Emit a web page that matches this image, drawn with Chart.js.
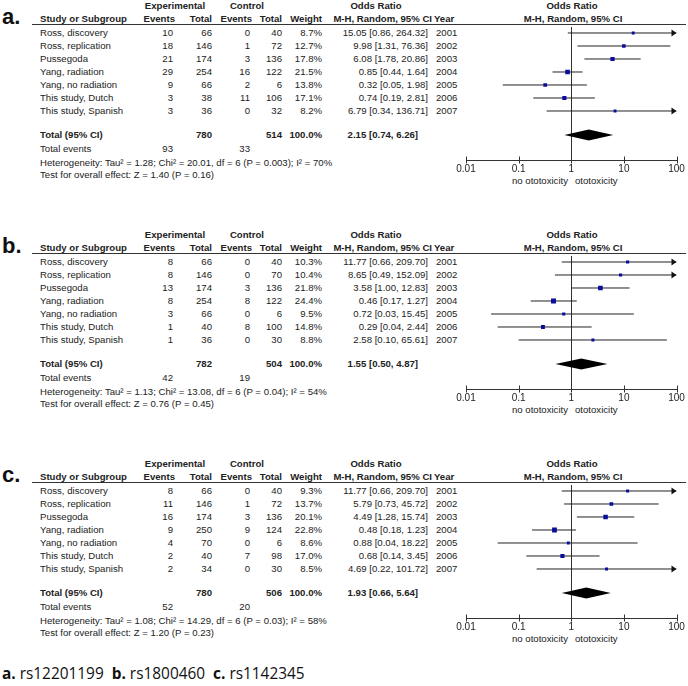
<!DOCTYPE html>
<html>
<head>
<meta charset="utf-8">
<script src="https://cdn.jsdelivr.net/npm/chart.js@4.4.1/dist/chart.umd.min.js"></script>
<style>
  body { margin: 0; background: #fff; }
  #page { position: relative; width: 688px; height: 686px; overflow: hidden;
          font-family: "Liberation Sans", Arial, sans-serif; font-size: 9.6px; color: #222; }
  .panel { position: absolute; left: 0; width: 688px; height: 229px; }
  .t { position: absolute; white-space: nowrap; height: 12px; line-height: 12px; }
  .b { font-weight: bold; }
  .rule { position: absolute; left: 32px; width: 654px; top: 24px; height: 1px; background: #333; }
  .tag { position: absolute; left: 2px; top: 6px; font: bold 22px "Liberation Sans", Arial, sans-serif;
         line-height: 22px; color: #111; }
  .plot { position: absolute; left: 440px; top: 0; width: 248px; height: 190px; }
  #caption { position: absolute; left: 2px; top: 663px; font: 15.4px "Open Sans", sans-serif;
             line-height: 22px; color: #111; white-space: nowrap; }
</style>
</head>
<body>
<div id="page">
  <div id="caption"><b>a.</b> rs12201199 &nbsp;<b>b.</b> rs1800460 &nbsp;<b>c.</b> rs1142345</div>
</div>
<script>
// shared
const studies = ["Ross, discovery", "Ross, replication", "Pussegoda", "Yang, radiation",
                 "Yang, no radiation", "This study, Dutch", "This study, Spanish"];
const years = [2001, 2002, 2003, 2004, 2005, 2006, 2007];
const tickValues = [0.01, 0.1, 1, 10, 100];

// a. rs12201199
const aExpEvents = [10, 18, 21, 29, 9, 3, 3];
const aExpTotal = [66, 146, 174, 254, 66, 38, 36];
const aCtlEvents = [0, 1, 3, 16, 2, 11, 0];
const aCtlTotal = [40, 72, 136, 122, 6, 106, 32];
const aWeight = [8.7, 12.7, 17.8, 21.5, 13.8, 17.1, 8.2];
const aOR = [15.05, 9.98, 6.08, 0.85, 0.32, 0.74, 6.79];
const aLow = [0.86, 1.31, 1.78, 0.44, 0.05, 0.19, 0.34];
const aHigh = [264.32, 76.36, 20.86, 1.64, 1.98, 2.81, 136.71];
const aTotals = [780, 514];
const aTotalEvents = [93, 33];
const aPooled = [2.15, 0.74, 6.26];
const aHet = "Tau² = 1.28; Chi² = 20.01, df = 6 (P = 0.003); I² = 70%";
const aZ = "Z = 1.40 (P = 0.16)";

// b. rs1800460
const bExpEvents = [8, 8, 13, 8, 3, 1, 1];
const bExpTotal = [66, 146, 174, 254, 66, 40, 36];
const bCtlEvents = [0, 0, 3, 8, 0, 8, 0];
const bCtlTotal = [40, 70, 136, 122, 6, 100, 30];
const bWeight = [10.3, 10.4, 21.8, 24.4, 9.5, 14.8, 8.8];
const bOR = [11.77, 8.65, 3.58, 0.46, 0.72, 0.29, 2.58];
const bLow = [0.66, 0.49, 1.00, 0.17, 0.03, 0.04, 0.10];
const bHigh = [209.70, 152.09, 12.83, 1.27, 15.45, 2.44, 65.61];
const bTotals = [782, 504];
const bTotalEvents = [42, 19];
const bPooled = [1.55, 0.50, 4.87];
const bHet = "Tau² = 1.13; Chi² = 13.08, df = 6 (P = 0.04); I² = 54%";
const bZ = "Z = 0.76 (P = 0.45)";

// c. rs1142345
const cExpEvents = [8, 11, 16, 9, 4, 2, 2];
const cExpTotal = [66, 146, 174, 250, 70, 40, 34];
const cCtlEvents = [0, 1, 3, 9, 0, 7, 0];
const cCtlTotal = [40, 72, 136, 124, 6, 98, 30];
const cWeight = [9.3, 13.7, 20.1, 22.8, 8.6, 17.0, 8.5];
const cOR = [11.77, 5.79, 4.49, 0.48, 0.88, 0.68, 4.69];
const cLow = [0.66, 0.73, 1.28, 0.18, 0.04, 0.14, 0.22];
const cHigh = [209.70, 45.72, 15.74, 1.23, 18.22, 3.45, 101.72];
const cTotals = [780, 506];
const cTotalEvents = [52, 20];
const cPooled = [1.93, 0.66, 5.64];
const cHet = "Tau² = 1.08; Chi² = 14.29, df = 6 (P = 0.03); I² = 58%";
const cZ = "Z = 1.20 (P = 0.23)";

const panels = [
  { tag: "a.", exp: aExpEvents, expN: aExpTotal, ctl: aCtlEvents, ctlN: aCtlTotal, w: aWeight,
    or: aOR, lo: aLow, hi: aHigh, totals: aTotals, events: aTotalEvents, pooled: aPooled, het: aHet, z: aZ },
  { tag: "b.", exp: bExpEvents, expN: bExpTotal, ctl: bCtlEvents, ctlN: bCtlTotal, w: bWeight,
    or: bOR, lo: bLow, hi: bHigh, totals: bTotals, events: bTotalEvents, pooled: bPooled, het: bHet, z: bZ },
  { tag: "c.", exp: cExpEvents, expN: cExpTotal, ctl: cCtlEvents, ctlN: cCtlTotal, w: cWeight,
    or: cOR, lo: cLow, hi: cHigh, totals: cTotals, events: cTotalEvents, pooled: cPooled, het: cHet, z: cZ }
];

const TOTAL_ROW = 7.85; // y position of pooled diamond, in row units
const fmtCI = (e, l, h) => e.toFixed(2) + " [" + l.toFixed(2) + ", " + h.toFixed(2) + "]";

function put(parent, text, x, y, align, bold) {
  const d = document.createElement("div");
  d.className = "t" + (bold ? " b" : "");
  d.textContent = text;
  d.style.top = (y - 6) + "px";
  if (align === "r") { d.style.left = (x - 300) + "px"; d.style.width = "300px"; d.style.textAlign = "right"; }
  else if (align === "c") { d.style.left = (x - 150) + "px"; d.style.width = "300px"; d.style.textAlign = "center"; }
  else d.style.left = x + "px";
  parent.appendChild(d);
}

// null line, axis with crossing ticks, arrows, pooled diamond
const forestExtras = {
  id: "forestExtras",
  beforeDatasetsDraw(chart) {
    const { ctx, chartArea: a, scales: { x } } = chart;
    ctx.save();
    ctx.strokeStyle = "#333";
    ctx.lineWidth = 1;
    const p1 = Math.round(x.getPixelForValue(1)) + 0.5;
    ctx.beginPath();
    ctx.moveTo(p1, a.top);
    ctx.lineTo(p1, a.bottom);
    const yb = Math.round(a.bottom) + 0.5;
    ctx.moveTo(Math.round(x.getPixelForValue(tickValues[0])), yb);
    ctx.lineTo(Math.round(x.getPixelForValue(tickValues[tickValues.length - 1])) + 1, yb);
    tickValues.forEach(v => {
      const t = Math.round(x.getPixelForValue(v)) + 0.5;
      ctx.moveTo(t, yb - 4);
      ctx.lineTo(t, yb + 3);
    });
    ctx.stroke();
    ctx.restore();
  },
  afterDatasetsDraw(chart, args, opts) {
    const { ctx, scales: { x, y } } = chart;
    ctx.save();
    ctx.fillStyle = "#111";
    opts.hi.forEach((h, i) => {
      if (h <= x.max) return;
      const tip = x.getPixelForValue(x.max);
      const yp = y.getPixelForValue(i);
      ctx.beginPath();
      ctx.moveTo(tip, yp);
      ctx.lineTo(tip - 5, yp - 3.5);
      ctx.lineTo(tip - 5, yp + 3.5);
      ctx.closePath();
      ctx.fill();
    });
    const [e, l, h] = opts.pooled;
    const yd = y.getPixelForValue(TOTAL_ROW);
    ctx.fillStyle = "#000";
    ctx.beginPath();
    ctx.moveTo(x.getPixelForValue(l), yd);
    ctx.lineTo(x.getPixelForValue(e), yd - 5.5);
    ctx.lineTo(x.getPixelForValue(h), yd);
    ctx.lineTo(x.getPixelForValue(e), yd + 5.5);
    ctx.closePath();
    ctx.fill();
    ctx.restore();
  }
};

const page = document.getElementById("page");

panels.forEach((p, k) => {
  const el = document.createElement("div");
  el.className = "panel";
  el.style.top = (229 * k) + "px";
  page.appendChild(el);

  const tag = document.createElement("div");
  tag.className = "tag";
  tag.textContent = p.tag;
  el.appendChild(tag);
  const rule = document.createElement("div");
  rule.className = "rule";
  el.appendChild(rule);

  // headers
  put(el, "Experimental", 175, 6, "c", true);
  put(el, "Control", 247, 6, "c", true);
  put(el, "Odds Ratio", 376, 6, "c", true);
  put(el, "Odds Ratio", 572, 6, "c", true);
  put(el, "Study or Subgroup", 40, 19, "l", true);
  put(el, "Events", 175, 19, "r", true);
  put(el, "Total", 212, 19, "r", true);
  put(el, "Events", 252, 19, "r", true);
  put(el, "Total", 282, 19, "r", true);
  put(el, "Weight", 322, 19, "r", true);
  put(el, "M-H, Random, 95% CI", 432, 19, "r", true);
  put(el, "Year", 434, 19, "l", true);
  put(el, "M-H, Random, 95% CI", 573, 19, "c", true);

  studies.forEach((s, i) => {
    const yy = 33 + 13 * i;
    put(el, s, 40, yy, "l");
    put(el, String(p.exp[i]), 173, yy, "r");
    put(el, String(p.expN[i]), 212, yy, "r");
    put(el, String(p.ctl[i]), 250, yy, "r");
    put(el, String(p.ctlN[i]), 282, yy, "r");
    put(el, p.w[i].toFixed(1) + "%", 322, yy, "r");
    put(el, fmtCI(p.or[i], p.lo[i], p.hi[i]), 428, yy, "r");
    put(el, String(years[i]), 436, yy, "l");
  });

  put(el, "Total (95% CI)", 40, 135, "l", true);
  put(el, String(p.totals[0]), 212, 135, "r", true);
  put(el, String(p.totals[1]), 282, 135, "r", true);
  put(el, "100.0%", 322, 135, "r", true);
  put(el, fmtCI(p.pooled[0], p.pooled[1], p.pooled[2]), 418, 135, "r", true);
  put(el, "Total events", 40, 149, "l");
  put(el, String(p.events[0]), 173, 149, "r");
  put(el, String(p.events[1]), 250, 149, "r");
  put(el, "Heterogeneity: " + p.het, 40, 163, "l");
  put(el, "Test for overall effect: " + p.z, 40, 175, "l");
  put(el, "no ototoxicity", 568, 181, "r");
  put(el, "ototoxicity", 575, 181, "l");

  // forest plot
  const box = document.createElement("div");
  box.className = "plot";
  const cv = document.createElement("canvas");
  cv.width = 248; cv.height = 190;
  box.appendChild(cv);
  el.appendChild(box);

  const ciPoints = [];
  p.or.forEach((o, i) => {
    ciPoints.push({ x: p.lo[i], y: i }, { x: Math.min(p.hi[i], 100), y: i }, { x: null, y: null });
  });
  const orPoints = p.or.map((o, i) => ({ x: o, y: i }));
  const radii = p.w.map(w => Math.sqrt(w) / Math.SQRT2);

  new Chart(cv, {
    type: "scatter",
    data: {
      datasets: [
        { label: "CI", data: ciPoints, showLine: true, spanGaps: false, borderColor: "#222",
          borderWidth: 1, pointRadius: 0, order: 2 },
        { label: "OR", data: orPoints, pointStyle: "rect", pointRadius: radii, pointBorderWidth: 0,
          backgroundColor: "#0b0b9c", borderColor: "#0b0b9c", order: 1 }
      ]
    },
    options: {
      responsive: false,
      animation: false,
      events: [],
      layout: { padding: { top: 27, left: 26, right: 11.5, bottom: 0 } },
      plugins: {
        legend: { display: false },
        tooltip: { enabled: false },
        forestExtras: { hi: p.hi, pooled: p.pooled }
      },
      scales: {
        x: {
          type: "logarithmic", min: 0.01, max: 100,
          grid: { display: false, drawTicks: false },
          border: { display: false },
          afterBuildTicks: s => { s.ticks = tickValues.map(v => ({ value: v })); },
          afterFit: s => { s.height = 30; },
          ticks: { padding: 3, color: "#222", maxRotation: 0, autoSkip: false,
                   font: { family: "Liberation Sans", size: 10 },
                   callback: v => String(v) }
        },
        y: { type: "linear", reverse: true, min: -0.4615, max: 9.77, display: false }
      }
    },
    plugins: [forestExtras]
  });
});
</script>
</body>
</html>
